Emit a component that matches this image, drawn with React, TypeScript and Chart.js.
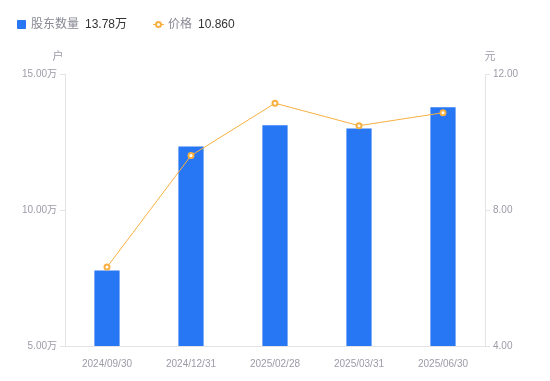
import React, { useEffect, useRef } from "react";
import { Chart, registerables } from "chart.js";

Chart.register(...registerables);

const categories = ["2024/09/30", "2024/12/31", "2025/02/28", "2025/03/31", "2025/06/30"];
const holders = [7.78, 12.33, 13.12, 13.0, 13.78]; // 万户
const prices = [6.32, 9.6, 11.14, 10.48, 10.86]; // 元
const leftTicks = [5, 10, 15];
const rightTicks = [4, 8, 12];

const FONT = '"Liberation Sans", Arial, "Noto Sans CJK SC", sans-serif';
const BAR = "#2777F4";
const LINE = "#F8B040";
const GRAY = "#9b9ba8";
const AXIS = "#e3e3e8";

export default function App() {
  const ref = useRef<HTMLCanvasElement | null>(null);

  useEffect(() => {
    document.body.style.margin = "0";
    const ctx = ref.current!.getContext("2d")!;
    const titles = {
      id: "axisTitles",
      afterDraw(chart: any) {
        const c = chart.ctx;
        const a = chart.chartArea;
        c.save();
        c.fillStyle = GRAY;
        c.font = `11px ${FONT}`;
        c.textBaseline = "middle";
        c.textAlign = "center";
        c.fillText("户", a.left - 7, 57);
        c.fillText("元", a.right + 5, 57);
        c.restore();
      },
    };
    const chart = new Chart(ctx, {
      data: {
        labels: categories,
        datasets: [
          {
            type: "line",
            label: "价格",
            data: prices,
            yAxisID: "y1",
            borderColor: LINE,
            borderWidth: 1,
            pointRadius: 2.5,
            pointBorderWidth: 2,
            pointBackgroundColor: "#ffffff",
            pointBorderColor: LINE,
            order: 0,
          } as any,
          {
            type: "bar",
            label: "股东数量",
            data: holders,
            yAxisID: "y",
            backgroundColor: BAR,
            barPercentage: 0.3,
            categoryPercentage: 1,
            order: 1,
          } as any,
        ],
      },
      options: {
        animation: false,
        responsive: false,
        maintainAspectRatio: false,
        layout: { padding: { top: 74, left: 0, right: 0, bottom: 0 } },
        plugins: { legend: { display: false }, tooltip: { enabled: false } },
        scales: {
          x: {
            grid: { display: false },
            border: { color: AXIS },
            ticks: { color: GRAY, font: { size: 10, family: FONT }, padding: 4, maxRotation: 0 },
            afterFit(s: any) {
              s.height = 35;
            },
          },
          y: {
            position: "left",
            min: 5,
            max: 15,
            afterBuildTicks(s: any) {
              s.ticks = leftTicks.map((v) => ({ value: v }));
            },
            grid: { drawOnChartArea: false, drawTicks: true, tickLength: 5, color: AXIS },
            border: { color: AXIS },
            ticks: {
              color: GRAY,
              font: { size: 10, family: FONT },
              padding: 3,
              callback: (v: any) => Number(v).toFixed(2) + "万",
            },
            afterFit(s: any) {
              s.width = 65;
            },
          },
          y1: {
            position: "right",
            min: 4,
            max: 12,
            afterBuildTicks(s: any) {
              s.ticks = rightTicks.map((v) => ({ value: v }));
            },
            grid: { drawOnChartArea: false, drawTicks: true, tickLength: 5, color: AXIS },
            border: { color: AXIS },
            ticks: {
              color: GRAY,
              font: { size: 10, family: FONT },
              padding: 3,
              callback: (v: any) => Number(v).toFixed(2),
            },
            afterFit(s: any) {
              s.width = 65;
            },
          },
        },
      },
      plugins: [titles],
    } as any);
    return () => chart.destroy();
  }, []);

  const txt: React.CSSProperties = { position: "absolute", top: 16, fontSize: 12, fontFamily: FONT, lineHeight: "16px", whiteSpace: "nowrap" };

  return (
    <div style={{ position: "fixed", left: 0, top: 0, width: 550, height: 381, background: "#fff" }}>
      <canvas ref={ref} width={550} height={381} style={{ position: "absolute", left: 0, top: 0 }} />
      <div style={{ position: "absolute", left: 17, top: 20, width: 9, height: 9, background: BAR, borderRadius: 1 }} />
      <span style={{ ...txt, left: 31, color: "#888894" }}>股东数量</span>
      <span style={{ ...txt, left: 85, color: "#333" }}>13.78万</span>
      <div style={{ position: "absolute", left: 153, top: 24, width: 11, height: 1, background: LINE }} />
      <div style={{ position: "absolute", left: 155, top: 21, width: 3, height: 3, border: `2px solid ${LINE}`, borderRadius: "50%", background: "#fff" }} />
      <span style={{ ...txt, left: 168, color: "#888894" }}>价格</span>
      <span style={{ ...txt, left: 198, color: "#333" }}>10.860</span>
    </div>
  );
}
